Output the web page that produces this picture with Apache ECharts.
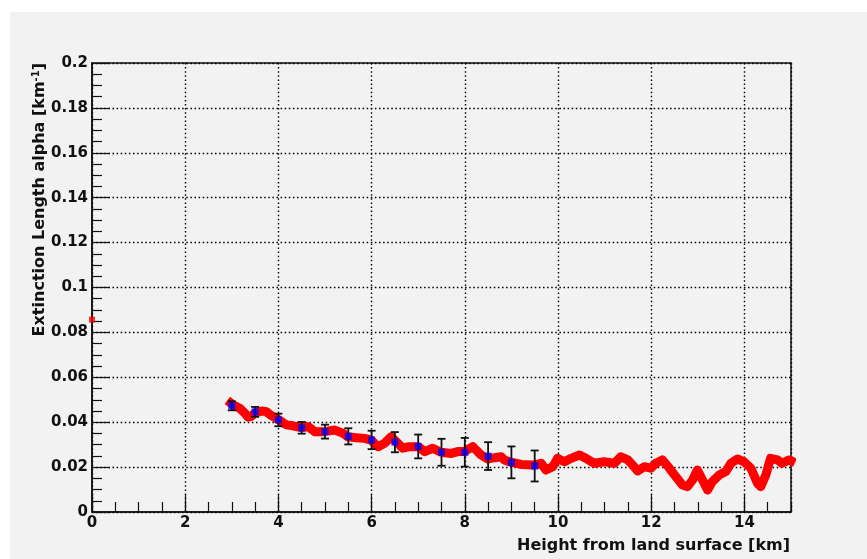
<!DOCTYPE html>
<html>
<head>
<meta charset="utf-8">
<script src="https://cdn.jsdelivr.net/npm/echarts@6/dist/echarts.min.js"></script>
<style>
  html, body { margin: 0; padding: 0; background: #ffffff; }
  #chart { width: 867px; height: 559px; }
</style>
</head>
<body>
<div id="chart"></div>
<script>
// Extinction length profile: continuous scan (red) and binned means with errors (blue)
const scanHeight = [2.98, 3.03, 3.17, 3.28, 3.35, 3.42, 3.49, 3.64, 3.74, 3.85, 4.03, 4.17, 4.31, 4.49, 4.64, 4.78, 4.99, 5.21, 5.39, 5.49, 5.67, 5.85, 5.99, 6.14, 6.28, 6.42, 6.53, 6.67, 6.81, 7.00, 7.14, 7.31, 7.49, 7.71, 7.85, 7.99, 8.17, 8.35, 8.49, 8.64, 8.78, 8.85, 8.99, 9.21, 9.46, 9.64, 9.74, 9.89, 9.99, 10.14, 10.28, 10.46, 10.60, 10.78, 10.99, 11.21, 11.35, 11.50, 11.60, 11.71, 11.85, 11.99, 12.10, 12.24, 12.39, 12.53, 12.67, 12.78, 12.89, 12.99, 13.10, 13.21, 13.31, 13.46, 13.60, 13.71, 13.85, 13.99, 14.14, 14.28, 14.35, 14.46, 14.56, 14.71, 14.81, 14.96, 15.0];
const scanAlpha = [0.0485, 0.0477, 0.0462, 0.0440, 0.0422, 0.0426, 0.0440, 0.0450, 0.0447, 0.0429, 0.0408, 0.0388, 0.0384, 0.0376, 0.0380, 0.0358, 0.0358, 0.0365, 0.0350, 0.0335, 0.0331, 0.0328, 0.0320, 0.0291, 0.0306, 0.0335, 0.0313, 0.0284, 0.0291, 0.0291, 0.0269, 0.0284, 0.0266, 0.0261, 0.0269, 0.0269, 0.0291, 0.0254, 0.0236, 0.0242, 0.0246, 0.0232, 0.0222, 0.0212, 0.0209, 0.0217, 0.0187, 0.0202, 0.0239, 0.0224, 0.0239, 0.0254, 0.0239, 0.0217, 0.0224, 0.0217, 0.0246, 0.0232, 0.0209, 0.0183, 0.0202, 0.0195, 0.0217, 0.0232, 0.0195, 0.0157, 0.0120, 0.0113, 0.0143, 0.0187, 0.0143, 0.0098, 0.0135, 0.0165, 0.0180, 0.0217, 0.0236, 0.0224, 0.0195, 0.0128, 0.0113, 0.0165, 0.0239, 0.0232, 0.0217, 0.0232, 0.0228];

// Single ground-level point
const groundHeight = [0];
const groundAlpha = [0.0857];

// Binned means with symmetric errors
const binHeight = [3, 3.5, 4, 4.5, 5, 5.5, 6, 6.5, 7, 7.5, 8, 8.5, 9, 9.5];
const binAlpha = [0.0473, 0.0446, 0.0410, 0.0375, 0.0358, 0.0337, 0.0321, 0.0311, 0.0292, 0.0266, 0.0266, 0.0249, 0.0221, 0.0205];
const binError = [0.0020, 0.0022, 0.0028, 0.0026, 0.0031, 0.0036, 0.0041, 0.0045, 0.0053, 0.0060, 0.0064, 0.0062, 0.0071, 0.0069];

// Axis ticks
const xTickLabels = ['0', '2', '4', '6', '8', '10', '12', '14'];
const yTickLabels = ['0', '0.02', '0.04', '0.06', '0.08', '0.1', '0.12', '0.14', '0.16', '0.18', '0.2'];

const FONT = 'DejaVu Sans';

const scanData = scanHeight.map((h, i) => [h, scanAlpha[i]]);
const groundData = groundHeight.map((h, i) => [h, groundAlpha[i]]);
const binData = binHeight.map((h, i) => [h, binAlpha[i], binError[i]]);

const chart = echarts.init(document.getElementById('chart'), null, { renderer: 'canvas' });

const labelStyle = { fontFamily: FONT, fontWeight: 'bold', fontSize: 15, color: '#111' };

chart.setOption({
  backgroundColor: '#ffffff',
  animation: false,
  graphic: [{
    type: 'rect', left: 10, top: 12, z: -100, silent: true,
    shape: { width: 857, height: 547 },
    style: { fill: '#f2f2f2' }
  }],
  grid: {
    left: 92, right: 76, top: 63, bottom: 47,
    outerBoundsMode: 'none', containLabel: false,
    show: true, backgroundColor: 'transparent', borderColor: '#111', borderWidth: 1.5
  },
  xAxis: [{
    type: 'value', min: 0, max: 15, interval: 2, position: 'bottom',
    name: 'Height from land surface [km]',
    nameLocation: 'end', nameGap: -1, nameMoveOverlap: false,
    nameTextStyle: {
      fontFamily: FONT, fontWeight: 'bold', fontSize: 16, color: '#111',
      align: 'right', verticalAlign: 'top', padding: [26, 0, 0, 0]
    },
    axisLine: { show: true, lineStyle: { color: '#111', width: 1.5 } },
    axisTick: { show: true, inside: true, length: 18, lineStyle: { color: '#111', width: 1.2 } },
    axisLabel: Object.assign({
      margin: 4, showMaxLabel: false,
      formatter: v => (xTickLabels.indexOf(String(v)) >= 0 ? String(v) : '')
    }, labelStyle),
    splitLine: { show: true, lineStyle: { color: '#000', width: 1.4, type: [1.5, 2.6] } }
  }, {
    type: 'value', min: 0, max: 15, interval: 0.5, position: 'bottom', offset: 0,
    axisLine: { show: false },
    axisTick: { show: true, inside: true, length: 10, lineStyle: { color: '#111', width: 1.2 } },
    axisLabel: { show: false },
    splitLine: { show: false }
  }],
  yAxis: {
    type: 'value', min: 0, max: 0.2, interval: 0.02,
    name: 'Extinction Length alpha [km{sup|-1}]',
    nameLocation: 'end', nameGap: 0, nameRotate: 90, nameMoveOverlap: false,
    nameTextStyle: {
      fontFamily: FONT, fontWeight: 'bold', fontSize: 16, color: '#111',
      align: 'right', verticalAlign: 'bottom', padding: [0, 0, 43, 0],
      rich: { sup: { fontFamily: FONT, fontWeight: 'bold', fontSize: 10, color: '#111', verticalAlign: 'top', padding: [0, 0, 8, 0] } }
    },
    axisLine: { show: true, lineStyle: { color: '#111', width: 1.5 } },
    axisTick: { show: true, inside: true, length: 18, lineStyle: { color: '#111', width: 1.2 } },
    minorTick: { show: true, splitNumber: 4, length: 10, lineStyle: { color: '#111', width: 1.2 } },
    axisLabel: Object.assign({
      margin: 4,
      formatter: v => {
        const idx = Math.round(v / 0.02);
        return yTickLabels[idx] !== undefined ? yTickLabels[idx] : '';
      }
    }, labelStyle),
    splitLine: { show: true, lineStyle: { color: '#000', width: 1.4, type: [1.5, 2.6] } }
  },
  series: [{
    name: 'scan', type: 'line', data: scanData, xAxisIndex: 0,
    showSymbol: false, symbol: 'none', smooth: false, z: 3,
    lineStyle: { color: '#ff0000', width: 9, cap: 'square', join: 'round' }
  }, {
    name: 'ground', type: 'scatter', data: groundData, xAxisIndex: 0,
    symbol: 'rect', symbolSize: 6, clip: false, z: 6,
    itemStyle: { color: '#ff0000' }
  }, {
    name: 'errors', type: 'custom', data: binData, xAxisIndex: 0, z: 4,
    renderItem: (params, api) => {
      const x = api.value(0), y = api.value(1), e = api.value(2);
      const lo = api.coord([x, y - e]);
      const hi = api.coord([x, y + e]);
      const cap = 4;
      const style = { stroke: '#111', lineWidth: 1.8 };
      return {
        type: 'group',
        children: [
          { type: 'line', shape: { x1: lo[0], y1: lo[1], x2: hi[0], y2: hi[1] }, style },
          { type: 'line', shape: { x1: lo[0] - cap, y1: lo[1], x2: lo[0] + cap, y2: lo[1] }, style },
          { type: 'line', shape: { x1: hi[0] - cap, y1: hi[1], x2: hi[0] + cap, y2: hi[1] }, style }
        ]
      };
    }
  }, {
    name: 'bins', type: 'scatter', data: binData.map(d => [d[0], d[1]]), xAxisIndex: 0,
    symbol: 'rect', symbolSize: 7, z: 5,
    itemStyle: { color: '#0000ff' }
  }]
});
</script>
</body>
</html>
